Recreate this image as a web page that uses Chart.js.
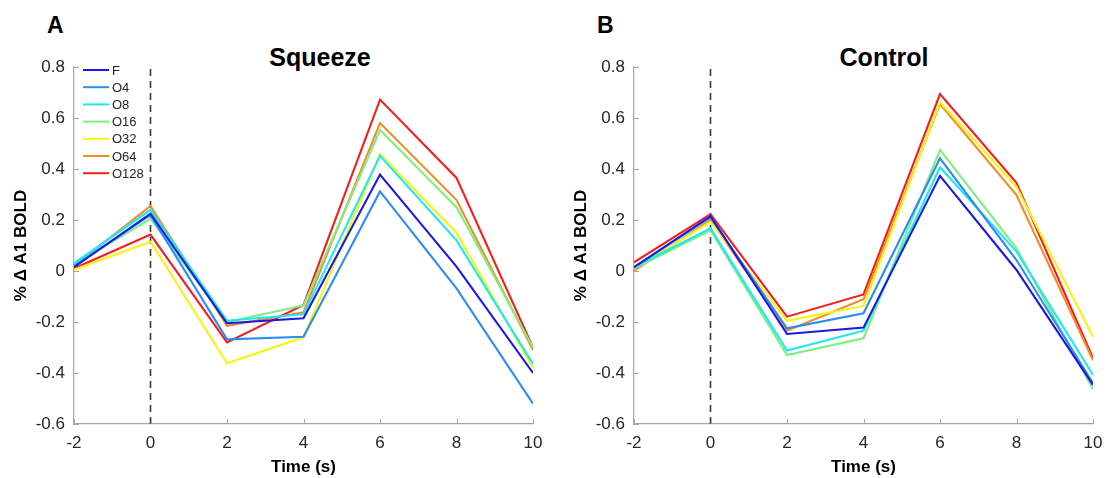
<!DOCTYPE html>
<html>
<head>
<meta charset="utf-8">
<script src="https://cdn.jsdelivr.net/npm/chart.js@4.4.0/dist/chart.umd.min.js"></script>
<style>
  body { margin: 0; background: #fff; width: 1106px; height: 478px; position: relative; overflow: hidden; font-family: "Liberation Sans", Arial, sans-serif; }
  .panel { position: absolute; top: 0; height: 478px; }
  .lbl { position: absolute; font-weight: bold; color: #000; white-space: nowrap; line-height: 1; }
  .letter { font-size: 23px; }
  .ttl { font-size: 25px; transform: translateX(-50%); }
</style>
</head>
<body>
<div class="lbl letter" style="left:47px;top:14px">A</div>
<div class="lbl letter" style="left:597px;top:14px">B</div>
<div class="lbl ttl" style="left:320px;top:45px">Squeeze</div>
<div class="lbl ttl" style="left:884px;top:45px">Control</div>
<div class="panel" style="left:0;width:550px"><canvas id="chartA"></canvas></div>
<div class="panel" style="left:560px;width:546px"><canvas id="chartB"></canvas></div>
<script>
const timePoints = [-2, 0, 2, 4, 6, 8, 10];
const seriesNames = ['F', 'O4', 'O8', 'O16', 'O32', 'O64', 'O128'];
const seriesColors = ['#1a1ae6', '#2a8cf5', '#1ee8f5', '#7def7d', '#f5f50f', '#f58a28', '#f51e1e'];
const onsetTime = 0;
const yTicks = [-0.6, -0.4, -0.2, 0, 0.2, 0.4, 0.6, 0.8];

// Squeeze
const squeezeF    = [0.015, 0.225, -0.205, -0.185, 0.378, 0.017, -0.40];
const squeezeO4   = [0.02, 0.22, -0.268, -0.258, 0.312, -0.068, -0.52];
const squeezeO8   = [0.03, 0.24, -0.195, -0.17, 0.452, 0.12, -0.365];
const squeezeO16  = [0.025, 0.205, -0.20, -0.135, 0.553, 0.25, -0.30];
const squeezeO32  = [0.005, 0.115, -0.362, -0.26, 0.458, 0.15, -0.38];
const squeezeO64  = [0.02, 0.255, -0.215, -0.162, 0.58, 0.278, -0.31];
const squeezeO128 = [0.01, 0.143, -0.28, -0.133, 0.672, 0.365, -0.30];

// Control
const controlF    = [0.015, 0.215, -0.247, -0.222, 0.373, 0.004, -0.447];
const controlO4   = [0.015, 0.21, -0.225, -0.166, 0.442, 0.043, -0.44];
const controlO8   = [0.015, 0.167, -0.312, -0.234, 0.407, 0.076, -0.408];
const controlO16  = [0.01, 0.16, -0.33, -0.264, 0.475, 0.089, -0.464];
const controlO32  = [0.01, 0.193, -0.195, -0.137, 0.662, 0.33, -0.258];
const controlO64  = [0.0, 0.2, -0.234, -0.111, 0.655, 0.298, -0.35];
const controlO128 = [0.034, 0.223, -0.179, -0.092, 0.694, 0.346, -0.342];

const squeezeSeries = [squeezeF, squeezeO4, squeezeO8, squeezeO16, squeezeO32, squeezeO64, squeezeO128];
const controlSeries = [controlF, controlO4, controlO8, controlO16, controlO32, controlO64, controlO128];

const tickColor = '#262626';
const axisColor = '#a6a6a6';
const fontFam = '"Liberation Sans", Arial, sans-serif';

function buildDatasets(series) {
  const sets = series.map((vals, i) => ({
    label: seriesNames[i],
    data: vals.map((v, j) => ({ x: timePoints[j], y: v })),
    borderColor: seriesColors[i],
    backgroundColor: seriesColors[i],
    borderWidth: 2.1,
    pointRadius: 0,
    tension: 0,
    order: i
  }));
  // vertical dashed line at stimulus onset
  sets.push({
    label: 'onset',
    data: [{ x: onsetTime, y: yTicks[0] }, { x: onsetTime, y: yTicks[yTicks.length - 1] }],
    borderColor: '#3a3a3a',
    borderWidth: 1.6,
    borderDash: [7, 5],
    pointRadius: 0,
    order: 20
  });
  return sets;
}

// matlab style ticks pointing into the plot
const innerTicks = {
  id: 'innerTicks',
  afterDraw(chart) {
    const ctx = chart.ctx;
    const a = chart.chartArea;
    const xs = chart.scales.x, ys = chart.scales.y;
    ctx.save();
    ctx.strokeStyle = axisColor;
    ctx.lineWidth = 1;
    ctx.beginPath();
    timePoints.forEach(t => {
      const px = Math.round(xs.getPixelForValue(t)) + 0.5;
      ctx.moveTo(px, a.bottom);
      ctx.lineTo(px, a.bottom - 5);
    });
    yTicks.forEach(v => {
      const py = Math.round(ys.getPixelForValue(v)) + 0.5;
      ctx.moveTo(a.left, py);
      ctx.lineTo(a.left + 5, py);
    });
    ctx.stroke();
    ctx.restore();
  }
};

const insideLegend = {
  id: 'insideLegend',
  afterDatasetsDraw(chart, args, opts) {
    if (!opts.show) return;
    const ctx = chart.ctx;
    const a = chart.chartArea;
    ctx.save();
    ctx.font = '13px ' + fontFam;
    ctx.textBaseline = 'middle';
    seriesNames.forEach((name, i) => {
      const y = a.top + 3 + i * 17.2;
      ctx.strokeStyle = seriesColors[i];
      ctx.lineWidth = 2;
      ctx.beginPath();
      ctx.moveTo(a.left + 9, y);
      ctx.lineTo(a.left + 35, y);
      ctx.stroke();
      ctx.fillStyle = '#262626';
      ctx.fillText(name, a.left + 38, y + 1);
    });
    ctx.restore();
  }
};

function makeChart(id, series, showLegend, rightPad) {
  return new Chart(document.getElementById(id), {
    type: 'line',
    data: { datasets: buildDatasets(series) },
    plugins: [insideLegend, innerTicks],
    options: {
      responsive: true,
      maintainAspectRatio: false,
      animation: false,
      layout: { padding: { top: 67, right: rightPad, bottom: 0, left: 0 } },
      plugins: {
        legend: { display: false },
        tooltip: { enabled: false },
        insideLegend: { show: showLegend }
      },
      scales: {
        x: {
          type: 'linear',
          min: timePoints[0],
          max: timePoints[timePoints.length - 1],
          afterBuildTicks: s => { s.ticks = timePoints.map(v => ({ value: v })); },
          grid: { drawOnChartArea: false, drawTicks: false },
          border: { color: axisColor, width: 1.2 },
          ticks: { color: tickColor, font: { size: 17, family: fontFam }, padding: 9, maxRotation: 0 },
          title: { display: true, text: 'Time (s)', color: '#000', font: { size: 17, weight: 'bold', family: fontFam }, padding: { top: 0, bottom: 0 } },
          afterFit: s => { s.height = 54; s.paddingLeft = 0; s.paddingRight = 0; }
        },
        y: {
          min: yTicks[0],
          max: yTicks[yTicks.length - 1],
          afterBuildTicks: s => { s.ticks = yTicks.map(v => ({ value: v })); },
          grid: { drawOnChartArea: false, drawTicks: false },
          border: { color: axisColor, width: 1.2 },
          ticks: {
            color: tickColor,
            font: { size: 17, family: fontFam },
            padding: 9,
            callback: v => String(Number(v.toFixed(1)))
          },
          title: { display: true, text: '% Δ A1 BOLD', color: '#000', font: { size: 17, weight: 'bold', family: fontFam }, padding: { top: 11, bottom: 0 } },
          afterFit: s => { s.width = 74; s.paddingTop = 0; s.paddingBottom = 0; }
        }
      }
    }
  });
}

makeChart('chartA', squeezeSeries, true, 17);
makeChart('chartB', controlSeries, false, 13);
</script>
</body>
</html>
